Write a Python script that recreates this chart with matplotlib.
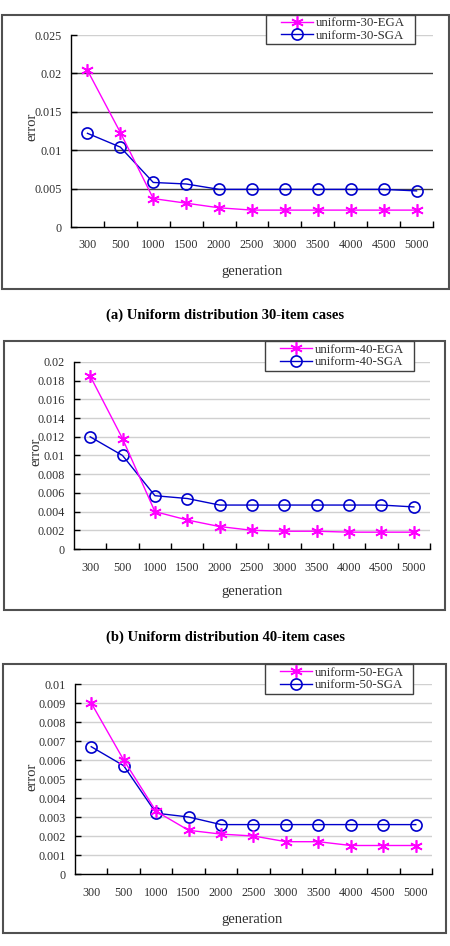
import matplotlib
matplotlib.use("Agg")
import matplotlib.pyplot as plt
from matplotlib.patches import Rectangle

plt.rcParams['font.family'] = ['Liberation Serif', 'DejaVu Serif']

generations = ['300', '500', '1000', '1500', '2000', '2500', '3000', '3500', '4000', '4500', '5000']

ega30 = [0.0204, 0.0123, 0.0037, 0.0031, 0.0025, 0.0022, 0.0022, 0.0022, 0.0022, 0.0022, 0.0022]
sga30 = [0.0122, 0.0104, 0.0058, 0.0056, 0.0049, 0.0049, 0.0049, 0.0049, 0.0049, 0.0049, 0.0047]

ega40 = [0.0185, 0.0118, 0.0040, 0.0031, 0.0024, 0.0020, 0.0019, 0.0019, 0.0018, 0.0018, 0.0018]
sga40 = [0.0120, 0.0100, 0.0057, 0.0054, 0.0047, 0.0047, 0.0047, 0.0047, 0.0047, 0.0047, 0.0045]

ega50 = [0.0090, 0.0060, 0.0033, 0.0023, 0.0021, 0.0020, 0.0017, 0.0017, 0.0015, 0.0015, 0.0015]
sga50 = [0.0067, 0.0057, 0.0032, 0.0030, 0.0026, 0.0026, 0.0026, 0.0026, 0.0026, 0.0026, 0.0026]

panels = [
    dict(ega=ega30, sga=sga30, n='30', ymax=0.025, step=0.005,
         yt=['0', '0.005', '0.01', '0.015', '0.02', '0.025'],
         ax=(71, 433, 35, 227), frame=(2, 449, 15, 289), leg=(266, 415, 15, 44),
         ylab=(32, 127), xlab=(252, 271), cap=('(a) Uniform distribution 30-item cases', 315),
         dark=True),
    dict(ega=ega40, sga=sga40, n='40', ymax=0.02, step=0.002,
         yt=['0', '0.002', '0.004', '0.006', '0.008', '0.01', '0.012', '0.014', '0.016', '0.018', '0.02'],
         ax=(74, 430, 362, 549), frame=(4, 445, 341, 610), leg=(265, 414, 341, 371),
         ylab=(36, 452), xlab=(252, 592), cap=('(b) Uniform distribution 40-item cases', 637),
         dark=False),
    dict(ega=ega50, sga=sga50, n='50', ymax=0.01, step=0.001,
         yt=['0', '0.001', '0.002', '0.003', '0.004', '0.005', '0.006', '0.007', '0.008', '0.009', '0.01'],
         ax=(75, 432, 684, 874), frame=(3, 446, 664, 933), leg=(265, 413, 664, 694),
         ylab=(32, 777), xlab=(252, 919), cap=None,
         dark=False),
]

W, H = 450, 946
fig = plt.figure(figsize=(W / 100, H / 100), dpi=100)
fig.patch.set_facecolor('white')

MAG = '#FF00FF'
BLU = '#0000CC'

def fx(x):
    return x / W

def fy(y):
    return 1 - y / H

for p in panels:
    x0, x1, y0, y1 = p['frame']
    fig.patches.append(Rectangle((fx(x0), fy(y1)), fx(x1 - x0), (y1 - y0) / H,
                                 transform=fig.transFigure, fill=False,
                                 edgecolor='#505050', linewidth=1.5, zorder=0))
    l, r, t, b = p['ax']
    ax = fig.add_axes([fx(l), fy(b), fx(r - l), (b - t) / H])
    ax.set_facecolor('none')
    xs = list(range(len(generations)))
    h1, = ax.plot(xs, p['ega'], color=MAG, linewidth=1.0, marker=(6, 2, 0),
                  markersize=9, markeredgewidth=1.2, label='uniform-%s-EGA' % p['n'], zorder=4)
    h2, = ax.plot(xs, p['sga'], color=BLU, linewidth=1.0, marker='o', markersize=8,
                  markerfacecolor='none', markeredgewidth=1.2, markeredgecolor=BLU,
                  label='uniform-%s-SGA' % p['n'], zorder=3)
    ax.set_xlim(-0.5, len(generations) - 0.5)
    ax.set_ylim(0, p['ymax'])
    nt = len(p['yt'])
    yvals = [i * p['step'] for i in range(nt)]
    ax.set_yticks(yvals)
    ax.set_yticklabels(p['yt'])
    for i, yv in enumerate(yvals[1:], start=1):
        if p['dark'] and i < nt - 1:
            c = '#404040'
        else:
            c = '#d0d0d0'
        ax.axhline(yv, color=c, linewidth=1.0, zorder=1)
    ax.set_xticks(xs)
    ax.set_xticklabels(generations)
    ax.set_xticks([i - 0.5 for i in range(1, len(generations) + 1)], minor=True)
    ax.tick_params(axis='x', which='major', length=0, pad=9, labelsize=8.7, colors='#303030')
    ax.tick_params(axis='x', which='minor', direction='in', length=4, width=1, color='black')
    ax.tick_params(axis='y', which='major', direction='in', length=4, width=1,
                   pad=6.5, labelsize=8.7, labelcolor='#303030')
    for s in ['top', 'right']:
        ax.spines[s].set_visible(False)
    for s in ['left', 'bottom']:
        ax.spines[s].set_color('black')
        ax.spines[s].set_linewidth(1.0)
    lx0, lx1, ly0, ly1 = p['leg']
    fig.patches.append(Rectangle((fx(lx0), fy(ly1)), fx(lx1 - lx0), (ly1 - ly0) / H,
                                 transform=fig.transFigure, facecolor='white',
                                 edgecolor='#404040', linewidth=1.0, zorder=5))
    leg = fig.legend(handles=[h1, h2], loc='center left',
                     bbox_to_anchor=(fx(lx0 + 15), fy((ly0 + ly1) / 2)),
                     bbox_transform=fig.transFigure,
                     frameon=False, borderpad=0.0, labelspacing=0.0,
                     handlelength=2.5, handletextpad=0.2, borderaxespad=0,
                     prop={'family': 'Liberation Serif', 'size': 9.3})
    leg.set_zorder(6)
    for txt in leg.get_texts():
        txt.set_color('#303030')
    fig.text(fx(p['ylab'][0]), fy(p['ylab'][1]), 'error', rotation=90,
             ha='center', va='center', fontsize=10.5, color='#303030')
    fig.text(fx(p['xlab'][0]), fy(p['xlab'][1]), 'generation',
             ha='center', va='center', fontsize=10.5, color='#303030')
    if p['cap']:
        fig.text(0.5, fy(p['cap'][1]), p['cap'][0], ha='center', va='center',
                 fontsize=10.5, fontweight='bold', color='black')

fig.savefig('out.png', dpi=100)
